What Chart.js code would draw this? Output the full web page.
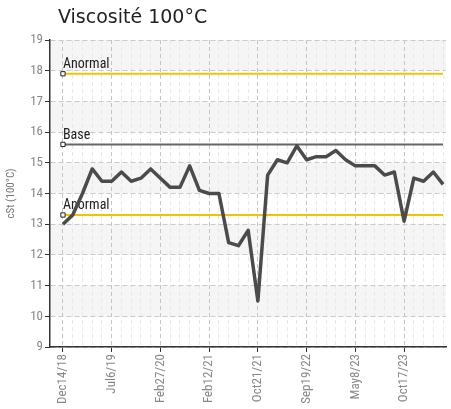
<!DOCTYPE html>
<html>
<head>
<meta charset="utf-8">
<script src="https://cdn.jsdelivr.net/npm/chart.js@4/dist/chart.umd.min.js"></script>
<style>
  body { margin: 0; background: #fff; }
  #wrap { position: relative; width: 451px; height: 409px; }
  #title { position: absolute; left: 58px; top: 5px; font: 19px "DejaVu Sans", Verdana, sans-serif; color: #222; }
  canvas { position: absolute; left: 0; top: 0; }
</style>
</head>
<body>
<div id="wrap">
  <canvas id="viscoChart" width="451" height="409"></canvas>
  <div id="title">Viscosité 100°C</div>
</div>
<script>
// Data
const tickLabels = ['Dec14/18', 'Jul6/19', 'Feb27/20', 'Feb12/21', 'Oct21/21', 'Sep19/22', 'May8/23', 'Oct17/23'];
const labelEvery = 5;
const viscosity = [13.0, 13.3, 14.0, 14.8, 14.4, 14.4, 14.7, 14.4, 14.5, 14.8,
                   14.5, 14.2, 14.2, 14.9, 14.1, 14.0, 14.0, 12.4, 12.3, 12.8,
                   10.5, 14.6, 15.1, 15.0, 15.55, 15.1, 15.2, 15.2, 15.4, 15.1,
                   14.9, 14.9, 14.9, 14.6, 14.7, 13.1, 14.5, 14.4, 14.7, 14.3];
const limitNames = ['Anormal', 'Base', 'Anormal'];
const limitValues = [17.9, 15.6, 13.3];
const limitColors = ['#f4c300', '#666666', '#f4c300'];

const condensed = '"Liberation Sans Narrow", "Roboto Condensed", "Arial Narrow", sans-serif';

document.addEventListener('DOMContentLoaded', function() {
    const series = viscosity.map((v, i) => ({ x: i, y: v }));

    const limitSets = limitValues.map((val, k) => ({
        label: limitNames[k],
        data: viscosity.map((_, i) => ({ x: i, y: val })),
        borderColor: limitColors[k],
        borderWidth: 2,
        pointStyle: 'rect',
        pointRadius: ctx => ctx.dataIndex === 0 ? 3 : 0,
        pointBackgroundColor: '#fff',
        pointBorderColor: '#222',
        pointBorderWidth: 1
    }));

    // shaded bands behind the grid
    const bands = {
        id: 'bands',
        beforeDraw(chart) {
            const { ctx, chartArea, scales: { y } } = chart;
            ctx.save();
            ctx.fillStyle = '#f5f5f5';
            for (let v = 10; v < 19; v += 2) {
                const top = y.getPixelForValue(v + 1);
                const bot = y.getPixelForValue(v);
                ctx.fillRect(chartArea.left, top, chartArea.right - chartArea.left, bot - top);
            }
            ctx.restore();
        }
    };

    // names of the limit lines
    const limitText = {
        id: 'limitText',
        beforeDatasetsDraw(chart) {
            const { ctx, scales: { x, y } } = chart;
            ctx.save();
            ctx.font = '14px ' + condensed;
            ctx.fillStyle = '#222';
            ctx.textAlign = 'left';
            ctx.textBaseline = 'bottom';
            limitValues.forEach((val, k) => {
                ctx.fillText(limitNames[k], x.getPixelForValue(0), y.getPixelForValue(val) - 2);
            });
            ctx.restore();
        }
    };

    const isMajor = ctx => ctx.tick && ctx.tick.value % labelEvery === 0;

    new Chart(document.getElementById('viscoChart'), {
        type: 'line',
        data: {
            datasets: [{
                label: 'Viscosité',
                data: series,
                borderColor: '#4b4b4b',
                borderWidth: 3.5,
                pointRadius: 0,
                tension: 0,
                borderJoinStyle: 'round'
            }].concat(limitSets)
        },
        options: {
            responsive: false,
            animation: false,
            layout: { padding: { top: 40, right: 3, left: 0, bottom: 0 } },
            scales: {
                x: {
                    type: 'linear',
                    min: -1.33,
                    max: 39.3,
                    afterBuildTicks: axis => { axis.ticks = viscosity.map((_, i) => ({ value: i })); },
                    afterFit: axis => {
                        axis.height = 62;
                        axis.paddingLeft = 0;
                        axis.paddingRight = 0;
                    },
                    ticks: {
                        autoSkip: false,
                        minRotation: 90,
                        maxRotation: 90,
                        padding: 2,
                        color: '#888',
                        font: { size: 13, family: condensed },
                        callback: v => v % labelEvery === 0 ? tickLabels[v / labelEvery] : ''
                    },
                    grid: {
                        color: ctx => isMajor(ctx) ? '#c4c4c4' : '#e8e8e8',
                        tickColor: ctx => isMajor(ctx) ? '#333' : 'rgba(0,0,0,0)',
                        tickLength: 5
                    },
                    border: { color: '#333', width: 1.5, dash: [4, 3] }
                },
                y: {
                    min: 9,
                    max: 19,
                    afterFit: axis => { axis.width = 50; },
                    ticks: {
                        stepSize: 1,
                        padding: 2,
                        color: '#888',
                        font: { size: 13, family: condensed }
                    },
                    grid: {
                        color: '#cacaca',
                        tickColor: '#333',
                        tickLength: 5
                    },
                    border: { color: '#333', width: 1.5, dash: [5, 3] },
                    title: {
                        display: true,
                        text: 'cSt (100°C)',
                        color: '#777',
                        font: { size: 11, family: condensed },
                        padding: { top: 5, bottom: 0 }
                    }
                }
            },
            plugins: {
                legend: { display: false },
                tooltip: { enabled: false }
            }
        },
        plugins: [bands, limitText]
    });
});
</script>
</body>
</html>
